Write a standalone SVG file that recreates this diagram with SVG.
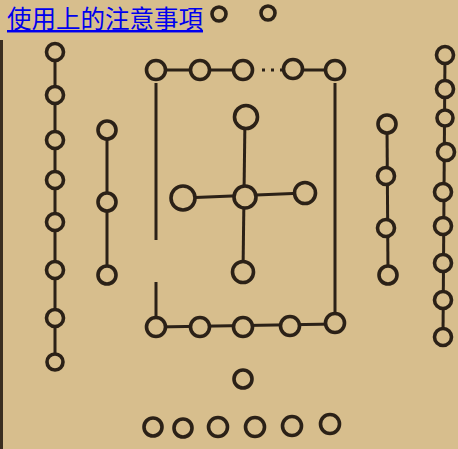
<svg xmlns="http://www.w3.org/2000/svg" width="458" height="449" viewBox="0 0 458 449">
<style>
.n{fill:#d7be8d;stroke:#2b2117;stroke-width:3.6}
.c line{stroke:#2b2117;stroke-width:3}
.t{font-family:"Noto Sans CJK TC","Noto Sans CJK SC",sans-serif;font-size:24.5px;fill:#0000ee;text-decoration:underline}
</style>
<rect width="458" height="449" fill="#d7be8d"/>
<line x1="1.5" y1="40" x2="1.5" y2="449" stroke="#3a2e20" stroke-width="3"/>
<text class="t" x="7" y="28">使用上的注意事項</text>
<g class="c" id="connectors">
<line x1="55" y1="52" x2="55" y2="362"/>
<line x1="107" y1="130" x2="107" y2="275"/>
<line x1="156" y1="70" x2="243" y2="70"/>
<line x1="262" y1="70" x2="284" y2="70" stroke-dasharray="3 6" stroke-width="1.5"/>
<line x1="293" y1="70" x2="335" y2="70"/>
<line x1="156" y1="83" x2="156" y2="240" stroke-width="4"/>
<line x1="156" y1="282" x2="156" y2="317" stroke-width="4"/>
<line x1="335" y1="83" x2="335" y2="313" stroke-width="4"/>
<line x1="156" y1="327" x2="335" y2="324"/>
<line x1="245" y1="117" x2="243" y2="272"/>
<line x1="183" y1="198" x2="305" y2="193"/>
<line x1="387" y1="124" x2="388" y2="275"/>
<line x1="445" y1="52" x2="443" y2="336"/>
</g>
<g id="top"><circle class="n" cx="219" cy="14" r="7"/><circle class="n" cx="268" cy="13" r="7"/></g>
<g id="col1">
<circle class="n" cx="55" cy="52" r="8.5"/><circle class="n" cx="55" cy="95" r="8.5"/><circle class="n" cx="55" cy="140" r="8.5"/><circle class="n" cx="55" cy="180" r="8.5"/><circle class="n" cx="55" cy="222" r="8.5"/><circle class="n" cx="55" cy="270" r="8.5"/><circle class="n" cx="55" cy="318" r="8.5"/><circle class="n" cx="55" cy="362" r="8"/>
</g>
<g id="col2">
<circle class="n" cx="107" cy="130" r="9"/><circle class="n" cx="107" cy="202" r="9"/><circle class="n" cx="107" cy="275" r="9"/>
</g>
<g id="frame">
<circle class="n" cx="156" cy="70" r="9.5"/><circle class="n" cx="200" cy="70" r="9.5"/><circle class="n" cx="243" cy="70" r="9.5"/><circle class="n" cx="293" cy="69" r="9.5"/><circle class="n" cx="335" cy="70" r="9.5"/>
<circle class="n" cx="156" cy="327" r="9.5"/><circle class="n" cx="200" cy="327" r="9.5"/><circle class="n" cx="243" cy="327" r="9.5"/><circle class="n" cx="290" cy="326" r="9.5"/><circle class="n" cx="335" cy="323" r="9.5"/>
</g>
<g id="cross">
<circle class="n" cx="246" cy="117" r="11.5"/><circle class="n" cx="183" cy="198" r="12"/><circle class="n" cx="245" cy="197" r="11"/><circle class="n" cx="305" cy="193" r="10.5"/><circle class="n" cx="243" cy="272" r="10.5"/>
</g>
<g id="col3">
<circle class="n" cx="387" cy="124" r="9"/><circle class="n" cx="386" cy="176" r="8.5"/><circle class="n" cx="386" cy="228" r="8.5"/><circle class="n" cx="388" cy="275" r="9"/>
</g>
<g id="col4">
<circle class="n" cx="445" cy="55" r="8.5"/><circle class="n" cx="445" cy="89" r="8.5"/><circle class="n" cx="445" cy="118" r="8"/><circle class="n" cx="446" cy="152" r="8.5"/><circle class="n" cx="443" cy="192" r="8.5"/><circle class="n" cx="443" cy="226" r="8.5"/><circle class="n" cx="443" cy="263" r="8.5"/><circle class="n" cx="443" cy="300" r="8.5"/><circle class="n" cx="443" cy="337" r="8.5"/>
</g>
<g id="bottom">
<circle class="n" cx="243" cy="379" r="9"/>
<circle class="n" cx="153" cy="427" r="9"/><circle class="n" cx="183" cy="428" r="9"/><circle class="n" cx="218" cy="427" r="9.5"/><circle class="n" cx="255" cy="427" r="9.5"/><circle class="n" cx="292" cy="426" r="9.5"/><circle class="n" cx="330" cy="424" r="9.5"/>
</g>
</svg>
